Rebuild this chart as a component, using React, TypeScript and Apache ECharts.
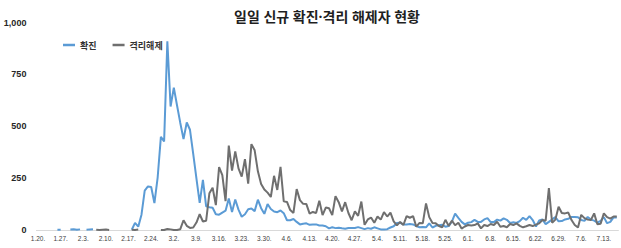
import React, { useEffect, useRef } from "react";
import * as echarts from "echarts";

const TITLE = "일일 신규 확진·격리 해제자 현황";
const SERIES_NAMES = ["확진", "격리해제"];

// Categories (dates, 2020-01-20 .. 2020-07-17)
const DATES_JAN = ["1.20.", "1.21.", "1.22.", "1.23.", "1.24.", "1.25.", "1.26.", "1.27.", "1.28.", "1.29.", "1.30.", "1.31."];
const DATES_FEB = ["2.1.", "2.2.", "2.3.", "2.4.", "2.5.", "2.6.", "2.7.", "2.8.", "2.9.", "2.10.", "2.11.", "2.12.", "2.13.", "2.14.", "2.15.", "2.16.", "2.17.", "2.18.", "2.19.", "2.20.", "2.21.", "2.22.", "2.23.", "2.24.", "2.25.", "2.26.", "2.27.", "2.28.", "2.29."];
const DATES_MAR = ["3.1.", "3.2.", "3.3.", "3.4.", "3.5.", "3.6.", "3.7.", "3.8.", "3.9.", "3.10.", "3.11.", "3.12.", "3.13.", "3.14.", "3.15.", "3.16.", "3.17.", "3.18.", "3.19.", "3.20.", "3.21.", "3.22.", "3.23.", "3.24.", "3.25.", "3.26.", "3.27.", "3.28.", "3.29.", "3.30.", "3.31."];
const DATES_APR = ["4.1.", "4.2.", "4.3.", "4.4.", "4.5.", "4.6.", "4.7.", "4.8.", "4.9.", "4.10.", "4.11.", "4.12.", "4.13.", "4.14.", "4.15.", "4.16.", "4.17.", "4.18.", "4.19.", "4.20.", "4.21.", "4.22.", "4.23.", "4.24.", "4.25.", "4.26.", "4.27.", "4.28.", "4.29.", "4.30."];
const DATES_MAY = ["5.1.", "5.2.", "5.3.", "5.4.", "5.5.", "5.6.", "5.7.", "5.8.", "5.9.", "5.10.", "5.11.", "5.12.", "5.13.", "5.14.", "5.15.", "5.16.", "5.17.", "5.18.", "5.19.", "5.20.", "5.21.", "5.22.", "5.23.", "5.24.", "5.25.", "5.26.", "5.27.", "5.28.", "5.29.", "5.30.", "5.31."];
const DATES_JUN = ["6.1.", "6.2.", "6.3.", "6.4.", "6.5.", "6.6.", "6.7.", "6.8.", "6.9.", "6.10.", "6.11.", "6.12.", "6.13.", "6.14.", "6.15.", "6.16.", "6.17.", "6.18.", "6.19.", "6.20.", "6.21.", "6.22.", "6.23.", "6.24.", "6.25.", "6.26.", "6.27.", "6.28.", "6.29.", "6.30."];
const DATES_JUL = ["7.1.", "7.2.", "7.3.", "7.4.", "7.5.", "7.6.", "7.7.", "7.8.", "7.9.", "7.10.", "7.11.", "7.12.", "7.13.", "7.14.", "7.15.", "7.16.", "7.17."];

// 확진 (daily new confirmed)
const CONF_JAN = [null, null, null, null, null, null, 1, 1, null, null, 3, 4];
const CONF_FEB = [1, 3, null, 1, 3, 4, null, null, null, null, null, null, null, null, null, null, null, 1, 34, 16, 74, 190, 210, 207, 130, 253, 449, 427, 909];
const CONF_MAR = [595, 686, 600, 516, 438, 518, 483, 367, 248, 131, 242, 114, 110, 107, 76, 74, 84, 93, 152, 87, 147, 98, 64, 76, 100, 104, 91, 146, 105, 78, 125];
const CONF_APR = [101, 89, 86, 94, 81, 47, 47, 53, 39, 27, 30, 32, 25, 27, 27, 22, 22, 18, 8, 13, 9, 11, 8, 6, 10, 10, 10, 14, 9, 4];
const CONF_MAY = [9, 6, 13, 8, 3, 2, 4, 12, 18, 34, 35, 27, 26, 29, 27, 19, 13, 15, 13, 32, 12, 20, 23, 25, 16, 19, 40, 79, 58, 39, 27];
const CONF_JUN = [35, 38, 49, 39, 39, 51, 57, 38, 38, 50, 45, 56, 49, 34, 37, 34, 43, 59, 49, 67, 48, 17, 46, 51, 28, 39, 51, 62, 42, 43];
const CONF_JUL = [51, 54, 63, 63, 61, 48, 44, 63, 50, 45, 35, 44, 62, 33, 39, 61, 60];

// 격리해제 (daily released)
const REL_JAN = [null, null, null, null, null, null, null, null, null, null, null, null];
const REL_FEB = [null, null, null, null, null, null, 1, 0, 1, 2, 0, null, null, null, null, null, null, 1, 0, 2, null, null, null, null, null, null, 0, 0, 5];
const REL_MAR = [3, 0, 0, 4, 47, 20, 10, 12, 36, 76, 41, 45, 177, 204, 120, 303, 264, 139, 407, 286, 379, 297, 257, 341, 223, 414, 384, 283, 222, 195, 180];
const REL_APR = [159, 261, 193, 304, 138, 135, 96, 82, 197, 144, 126, 125, 79, 87, 82, 141, 72, 108, 105, 72, 163, 134, 90, 134, 82, 47, 90, 68, 137, 25];
const REL_MAY = [51, 60, 35, 65, 50, 86, 65, 84, 42, 22, 39, 24, 67, 59, 67, 16, 34, 32, 128, 62, 34, 32, 19, 13, 49, 20, 45, 23, 35, 7, 17];
const REL_JUN = [24, 22, 24, 32, 8, 24, 19, 29, 24, 40, 16, 19, 13, 29, 24, 32, 20, 13, 18, 24, 19, 26, 32, 48, 45, 202, 35, 50, 112, 82];
const REL_JUL = [80, 84, 48, 24, 12, 73, 57, 50, 48, 80, 28, 30, 80, 62, 55, 65, 65];

const Y_MIN = 0;
const Y_MAX = 1000;
const Y_STEP = 250;

const CATEGORIES = [...DATES_JAN, ...DATES_FEB, ...DATES_MAR, ...DATES_APR, ...DATES_MAY, ...DATES_JUN, ...DATES_JUL];
const CONFIRMED = [...CONF_JAN, ...CONF_FEB, ...CONF_MAR, ...CONF_APR, ...CONF_MAY, ...CONF_JUN, ...CONF_JUL];
const RELEASED = [...REL_JAN, ...REL_FEB, ...REL_MAR, ...REL_APR, ...REL_MAY, ...REL_JUN, ...REL_JUL];

const BLUE = "#5B9BD5";
const GRAY = "#6f6f6f";
const KR = "'Noto Sans', 'Noto Sans CJK KR', sans-serif";
const NUM = "'Liberation Sans', Arial, sans-serif";

export default function App() {
  const ref = useRef<HTMLDivElement | null>(null);

  useEffect(() => {
    if (!ref.current) return;
    const chart = echarts.init(ref.current, null, { renderer: "svg" });
    chart.setOption({
      animation: false,
      backgroundColor: "#ffffff",
      title: {
        text: TITLE,
        left: 322,
        top: 4,
        textAlign: "center",
        textStyle: { fontSize: 14, fontWeight: "bold", color: "#1f1f1f", fontFamily: KR },
      },
      legend: {
        data: SERIES_NAMES,
        left: 58,
        top: 34,
        icon: "rect",
        itemWidth: 12,
        itemHeight: 2.5,
        itemGap: 16,
        textStyle: { fontSize: 9, fontWeight: "bold", color: "#333333", fontFamily: KR, lineHeight: 12 },
      },
      grid: { left: 36.4, right: 2.6, top: 22.5, bottom: 18, containLabel: false },
      xAxis: {
        type: "category",
        data: CATEGORIES,
        boundaryGap: true,
        axisLine: { lineStyle: { color: "#d9d9d9", width: 1 } },
        axisTick: { interval: 6, alignWithLabel: true, length: 3, lineStyle: { color: "#d9d9d9" } },
        axisLabel: { interval: 6, fontSize: 6.5, color: "#404040", margin: 5, fontFamily: NUM },
      },
      yAxis: {
        type: "value",
        min: Y_MIN,
        max: Y_MAX,
        interval: Y_STEP,
        splitLine: { show: false },
        axisLine: { show: false },
        axisTick: { show: false },
        axisLabel: {
          fontSize: 9,
          fontWeight: "bold",
          color: "#262626",
          margin: 10,
          fontFamily: NUM,
          formatter: (v: number) => v.toLocaleString("en-US"),
        },
      },
      series: [
        {
          name: SERIES_NAMES[0],
          type: "line",
          data: CONFIRMED,
          showSymbol: false,
          symbol: "none",
          lineStyle: { width: 2, color: BLUE },
          itemStyle: { color: BLUE },
        },
        {
          name: SERIES_NAMES[1],
          type: "line",
          data: RELEASED,
          showSymbol: false,
          symbol: "none",
          lineStyle: { width: 2, color: GRAY },
          itemStyle: { color: GRAY },
        },
      ],
    });
    return () => chart.dispose();
  }, []);

  return (
    <div
      ref={ref}
      style={{ position: "fixed", left: 0, top: 0, width: 621, height: 248, background: "#fff" }}
    />
  );
}
